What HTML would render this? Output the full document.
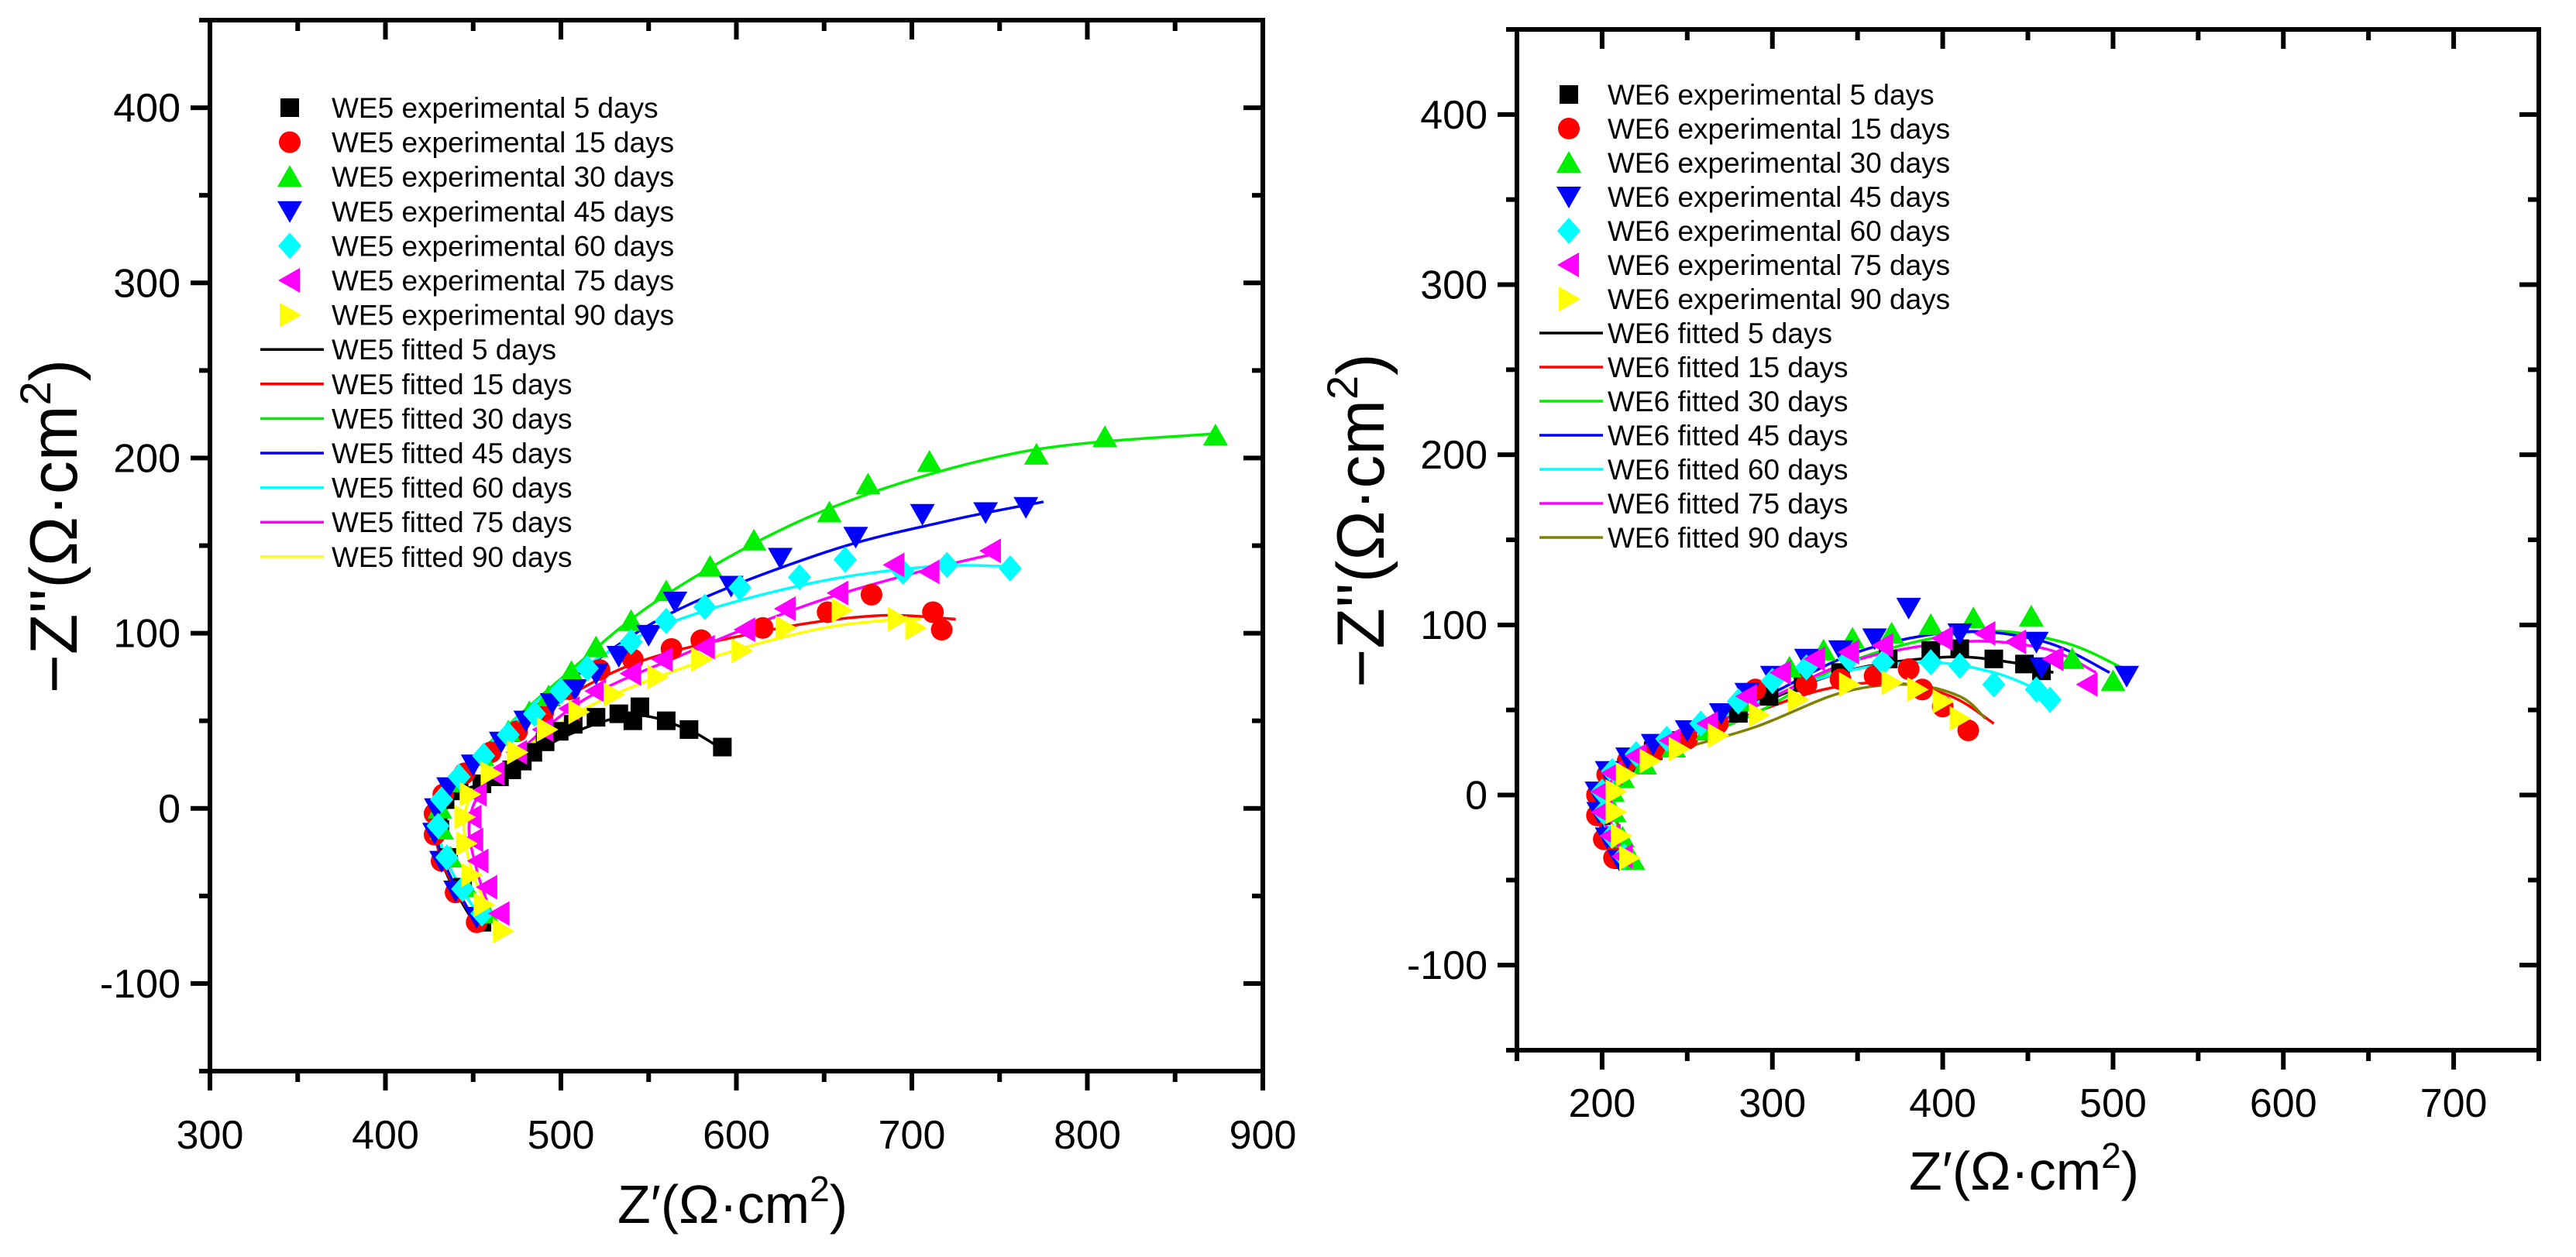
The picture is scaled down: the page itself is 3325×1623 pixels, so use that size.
<!DOCTYPE html>
<html><head><meta charset="utf-8">
<style>
html,body{margin:0;padding:0;background:#fff;}
svg{display:block;font-family:"Liberation Sans",Arial,sans-serif;}
</style></head>
<body>
<svg id="chart" width="3325" height="1623" viewBox="0 0 3325 1623" xmlns="http://www.w3.org/2000/svg"></svg>
<script>
// ---------- data ----------
const seriesDays = ["5", "15", "30", "45", "60", "75", "90"];
const seriesColors = ["#000000", "#ff0000", "#00ee00", "#0000ff", "#00ffff", "#ff00ff", "#ffff00"];
const fitColorsWE6 = ["#000000", "#ff0000", "#00ee00", "#0000ff", "#00ffff", "#ff00ff", "#808000"];
const markerShapes = ["square", "circle", "up", "down", "diamond", "left", "right"];

const xTicksLeft = [300, 400, 500, 600, 700, 800, 900];
const xTicksRight = [200, 300, 400, 500, 600, 700];
const yTicks = [-100, 0, 100, 200, 300, 400];

// WE5 experimental [Z', -Z'']
const we5Exp5 = [[455,-65],[444,-45],[436,-28],[431,-12],[430,-3],[434,5],[442,10],[455,14],[465,18],[472,22],[478,27],[484,32],[491,38],[499,44],[507,48],[520,52],[533,54],[541,50],[545,58],[560,50],[573,45],[592,35]];
const we5Exp15 = [[452,-65],[440,-48],[432,-30],[428,-15],[428,-3],[433,8],[445,20],[460,32],[475,44],[490,55],[505,68],[522,79],[541,85],[563,91],[580,96],[615,103],[652,112],[677,122],[712,112],[717,102]];
const we5Exp30 = [[458,-60],[446,-45],[437,-28],[432,-12],[431,0],[440,15],[455,30],[470,44],[482,55],[493,64],[506,78],[520,92],[540,107],[560,124],[585,138],[610,153],[653,169],[675,185],[710,198],[771,202],[810,212],[873,213]];
const we5Exp45 = [[452,-62],[440,-47],[432,-30],[428,-14],[429,0],[436,12],[450,25],[466,38],[480,50],[495,60],[508,68],[520,77],[533,87],[550,99],[565,118],[597,127],[625,143],[668,155],[706,168],[742,169],[765,172]];
const we5Exp60 = [[455,-60],[444,-46],[435,-28],[430,-10],[432,5],[442,18],[456,30],[470,42],[485,54],[500,67],[515,80],[540,95],[560,107],[582,115],[602,126],[636,132],[662,142],[695,135],[720,139],[756,137]];
const we5Exp75 = [[465,-60],[458,-45],[453,-30],[450,-18],[449,-5],[452,8],[462,20],[475,32],[490,45],[505,57],[520,67],[540,77],[558,85],[582,92],[605,102],[628,114],[658,123],[690,139],[710,135],[745,147]];
const we5Exp90 = [[467,-70],[456,-55],[449,-38],[446,-20],[445,-5],[448,8],[460,20],[475,32],[492,45],[510,55],[530,65],[555,75],[580,85],[603,90],[628,103],[660,113],[692,108],[702,103]];
// WE5 fitted
const we5Fit5 = [[452,-68],[434,-35],[429,-5],[438,8],[465,18],[500,40],[540,53],[570,46],[590,35]];
const we5Fit15 = [[452,-66],[433,-32],[428,-4],[440,14],[480,48],[540,82],[620,102],[680,110],[725,108]];
const we5Fit30 = [[455,-64],[436,-32],[430,-2],[450,28],[500,74],[560,122],[650,170],[760,203],[873,214]];
const we5Fit45 = [[452,-66],[434,-32],[428,-3],[445,22],[495,65],[560,110],[650,146],[720,164],[775,175]];
const we5Fit60 = [[455,-64],[436,-32],[430,-2],[448,25],[500,72],[560,105],[640,128],[710,138],[760,138]];
const we5Fit75 = [[462,-64],[452,-35],[448,-6],[462,18],[510,60],[570,88],[640,116],[700,134],[750,146]];
const we5Fit90 = [[466,-70],[450,-38],[445,-5],[458,16],[510,55],[580,84],[640,101],[680,107],[705,108]];

// WE6 experimental
const we6Exp5 = [[212,-38],[204,-25],[200,-12],[199,0],[204,10],[215,18],[230,26],[245,32],[262,38],[280,48],[298,58],[318,66],[340,72],[368,80],[393,85],[410,86],[430,80],[448,77],[458,73]];
const we6Exp15 = [[207,-37],[201,-26],[197,-12],[197,0],[203,12],[215,20],[232,27],[250,33],[268,42],[290,62],[320,65],[340,68],[360,70],[380,74],[388,62],[400,52],[415,38]];
const we6Exp30 = [[218,-38],[212,-25],[207,-10],[206,2],[212,10],[225,18],[242,28],[262,38],[285,55],[310,75],[330,85],[347,92],[370,95],[393,100],[418,104],[452,105],[476,80],[500,67]];
const we6Exp45 = [[210,-38],[203,-25],[198,-10],[197,2],[203,14],[215,22],[230,30],[250,38],[270,48],[285,60],[300,70],[320,80],[340,85],[360,92],[380,110],[410,95],[455,90],[458,75],[508,70]];
const we6Exp60 = [[213,-36],[206,-24],[201,-10],[200,2],[206,14],[220,24],[238,33],[258,42],[280,55],[300,67],[320,75],[345,80],[365,78],[393,78],[410,76],[430,65],[455,62],[463,56]];
const we6Exp75 = [[212,-36],[205,-24],[200,-10],[200,2],[206,13],[220,23],[240,32],[262,42],[285,58],[305,72],[325,80],[345,84],[365,88],[400,92],[425,95],[443,90],[465,80],[485,65]];
const we6Exp90 = [[216,-37],[211,-24],[208,-10],[208,2],[214,12],[228,20],[245,27],[268,35],[292,47],[315,56],[345,65],[370,66],[385,62],[400,55],[410,45]];
// WE6 fitted
const we6Fit5 = [[212,-38],[200,-12],[200,4],[225,25],[280,48],[340,72],[400,81],[440,78],[465,72]];
const we6Fit15 = [[207,-38],[197,-12],[198,4],[222,24],[280,45],[330,62],[370,66],[405,58],[430,42]];
const we6Fit30 = [[218,-38],[207,-12],[206,3],[230,22],[290,48],[350,80],[420,96],[470,90],[505,75]];
const we6Fit45 = [[210,-40],[198,-12],[198,4],[222,26],[290,55],[350,84],[410,96],[460,90],[498,72]];
const we6Fit60 = [[213,-38],[201,-12],[201,4],[225,26],[285,52],[340,72],[390,78],[430,72],[460,60]];
const we6Fit75 = [[212,-38],[200,-12],[200,4],[224,24],[285,50],[345,78],[410,90],[460,86],[490,72]];
const we6Fit90 = [[216,-38],[208,-12],[208,4],[232,22],[290,40],[340,60],[380,65],[410,58],[425,45]];

const we5ExpAll = [we5Exp5, we5Exp15, we5Exp30, we5Exp45, we5Exp60, we5Exp75, we5Exp90];
const we5FitAll = [we5Fit5, we5Fit15, we5Fit30, we5Fit45, we5Fit60, we5Fit75, we5Fit90];
const we6ExpAll = [we6Exp5, we6Exp15, we6Exp30, we6Exp45, we6Exp60, we6Exp75, we6Exp90];
const we6FitAll = [we6Fit5, we6Fit15, we6Fit30, we6Fit45, we6Fit60, we6Fit75, we6Fit90];

// ---------- drawing ----------
const NS = "http://www.w3.org/2000/svg";
const root = document.getElementById("chart");
function mk(tag, attrs, parent) {
  const e = document.createElementNS(NS, tag);
  for (const k in attrs) e.setAttribute(k, attrs[k]);
  (parent || root).appendChild(e);
  return e;
}
function smoothPath(pts) {
  let d = "M" + pts[0][0] + "," + pts[0][1];
  for (let i = 0; i < pts.length - 1; i++) {
    const p0 = pts[Math.max(0, i - 1)], p1 = pts[i], p2 = pts[i + 1], p3 = pts[Math.min(pts.length - 1, i + 2)];
    const c1x = p1[0] + (p2[0] - p0[0]) / 6, c1y = p1[1] + (p2[1] - p0[1]) / 6;
    const c2x = p2[0] - (p3[0] - p1[0]) / 6, c2y = p2[1] - (p3[1] - p1[1]) / 6;
    d += " C" + c1x + "," + c1y + " " + c2x + "," + c2y + " " + p2[0] + "," + p2[1];
  }
  return d;
}
function marker(shape, cx, cy, color, g) {
  let el;
  if (shape === "square") el = mk("rect", {x: cx - 12, y: cy - 12, width: 24, height: 24, fill: color}, g);
  else if (shape === "circle") el = mk("circle", {cx: cx, cy: cy, r: 14, fill: color}, g);
  else {
    let p;
    if (shape === "up") p = [[cx, cy - 15], [cx + 16, cy + 13], [cx - 16, cy + 13]];
    if (shape === "down") p = [[cx, cy + 15], [cx + 16, cy - 13], [cx - 16, cy - 13]];
    if (shape === "diamond") p = [[cx, cy - 17], [cx + 15, cy], [cx, cy + 17], [cx - 15, cy]];
    if (shape === "left") p = [[cx - 15, cy], [cx + 13, cy - 16], [cx + 13, cy + 16]];
    if (shape === "right") p = [[cx + 15, cy], [cx - 13, cy - 16], [cx - 13, cy + 16]];
    el = mk("polygon", {points: p.map(q => q.join(",")).join(" "), fill: color}, g);
  }
  return el;
}

function drawPlot(cfg) {
  const g = mk("g", {});
  
  
  const sx = v => cfg.L + (v - cfg.xmin) / (cfg.xmax - cfg.xmin) * (cfg.R - cfg.L);
  const sy = v => cfg.B - (v - cfg.ymin) / (cfg.ymax - cfg.ymin) * (cfg.B - cfg.T);

  cfg.fits.forEach((arr, i) => {
    const p = mk("path", {d: smoothPath(arr.map(q => [sx(q[0]), sy(q[1])])), fill: "none", stroke: cfg.fitColors[i], "stroke-width": 3.5}, g);
    
    
  });
  cfg.exps.forEach((arr, i) => {
    const mg = mk("g", {}, g);
    
    
    arr.forEach(q => {
      const m = marker(markerShapes[i], sx(q[0]), sy(q[1]), seriesColors[i], mg);
      
      
    });
  });

  const fr = mk("rect", {x: cfg.L, y: cfg.T, width: cfg.R - cfg.L, height: cfg.B - cfg.T, fill: "none", stroke: "#000", "stroke-width": 6}, g);
  
  

  const tg = mk("g", {stroke: "#000", "stroke-width": 6}, g);
  
  
  for (let v = cfg.xmin; v <= cfg.xmax; v += 50) {
    const major = (v % 100 === 0);
    const x = sx(v), len = major ? 25 : 14;
    mk("line", {x1: x, y1: cfg.B, x2: x, y2: cfg.B + len}, tg);
    mk("line", {x1: x, y1: cfg.T, x2: x, y2: cfg.T + len}, tg);
  }
  for (let v = cfg.ymin; v <= cfg.ymax; v += 50) {
    const major = (v % 100 === 0);
    const y = sy(v), len = major ? 25 : 14;
    mk("line", {x1: cfg.L, y1: y, x2: cfg.L - len, y2: y}, tg);
    mk("line", {x1: cfg.R, y1: y, x2: cfg.R - len, y2: y}, tg);
  }
  cfg.xTicks.forEach(v => {
    const t = mk("text", {x: sx(v), y: cfg.B + cfg.xLabOff, "font-size": 52, "text-anchor": "middle"}, g);
    t.textContent = v;
    
    
  });
  yTicks.forEach(v => {
    const t = mk("text", {x: cfg.L - 38, y: sy(v) + 18, "font-size": 52, "text-anchor": "end"}, g);
    t.textContent = v;
    
    
  });
  const xt = mk("text", {x: (cfg.L + cfg.R) / 2 - 5, y: cfg.B + cfg.xTitleOff, "font-size": 70, "text-anchor": "middle"}, g);
  xt.innerHTML = 'Z\u2032(\u03A9\u00B7cm<tspan dy="-28" font-size="46">2</tspan><tspan dy="28">)</tspan>';
  
  
  const yx = cfg.L - 172, yy = (cfg.T + cfg.B) / 2 - 25;
  const yt = mk("text", {x: yx, y: yy, "font-size": 86, "text-anchor": "middle", transform: "rotate(-90 " + yx + " " + yy + ")"}, g);
  yt.innerHTML = '\u2212Z\'\'(\u03A9\u00B7cm<tspan dy="-34" font-size="56">2</tspan><tspan dy="34">)</tspan>';
  
  

  const lg = mk("g", {}, g);
  
  
  for (let i = 0; i < 14; i++) {
    const y = cfg.legY + i * cfg.legDy;
    const idx = i % 7;
    const eg = mk("g", {}, lg);
    
    
    if (i < 7) marker(markerShapes[idx], cfg.legSym, y, seriesColors[idx], eg);
    else mk("line", {x1: cfg.legSym - 38, y1: y, x2: cfg.legSym + 44, y2: y, stroke: cfg.fitColors[idx], "stroke-width": 3.5}, eg);
    const t = mk("text", {x: cfg.legText, y: y + 13, "font-size": 37}, eg);
    t.textContent = cfg.prefix + (i < 7 ? " experimental " : " fitted ") + seriesDays[idx] + " days";
  }
}

drawPlot({name: "we5-plot", L: 271, R: 1630, T: 26, B: 1383, xmin: 300, xmax: 900, ymin: -150, ymax: 450,
  xTicks: xTicksLeft, exps: we5ExpAll, fits: we5FitAll, fitColors: seriesColors, prefix: "WE5",
  legY: 139, legDy: 44.6, legSym: 374, legText: 428, xLabOff: 100, xTitleOff: 196});
drawPlot({name: "we6-plot", L: 1958, R: 3277, T: 38, B: 1356, xmin: 150, xmax: 750, ymin: -150, ymax: 450,
  xTicks: xTicksRight, exps: we6ExpAll, fits: we6FitAll, fitColors: fitColorsWE6, prefix: "WE6",
  legY: 122, legDy: 44, legSym: 2025, legText: 2075, xLabOff: 86, xTitleOff: 180});
</script>
</body></html>
